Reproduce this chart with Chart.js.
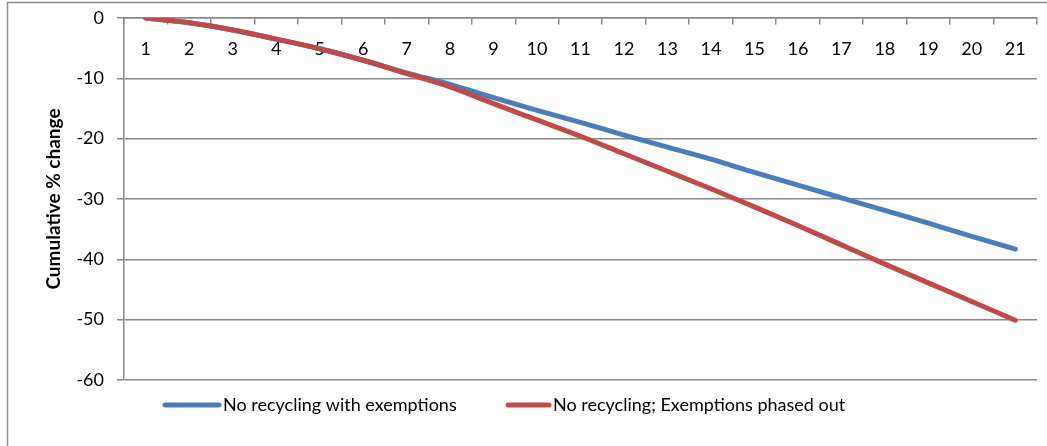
<!DOCTYPE html>
<html>
<head>
<meta charset="utf-8">
<script src="https://cdn.jsdelivr.net/npm/chart.js@4.4.1/dist/chart.umd.min.js"></script>
<style>
  html, body { margin: 0; padding: 0; background: #ffffff; }
  #wrap { width: 1047px; height: 446px; }
</style>
</head>
<body>
<div id="wrap"><canvas id="chart" width="1047" height="446"></canvas></div>
<script>
// Years since start
const years = ['1','2','3','4','5','6','7','8','9','10','11','12','13','14','15','16','17','18','19','20','21'];

// Cumulative % change per scenario
const withExemptions = [0, -0.8, -2.0, -3.5, -5.1, -7.0, -9.1, -11.0, -13.2, -15.3, -17.3, -19.4, -21.4, -23.4, -25.6, -27.7, -29.8, -31.9, -34.0, -36.2, -38.3];
const exemptionsPhasedOut = [0, -0.8, -2.0, -3.5, -5.1, -7.0, -9.2, -11.4, -14.2, -16.9, -19.6, -22.5, -25.4, -28.3, -31.3, -34.4, -37.6, -40.8, -43.9, -47.0, -50.1];

const seriesNames = ['No recycling with exemptions', 'No recycling; Exemptions phased out'];
const yAxisTitle = 'Cumulative % change';
const yMin = -60, yMax = 0, yStep = 10;

const FONT = 'Lato, "Open Sans", sans-serif';
const BLUE = '#4A7EBB';
const RED = '#BE4B48';
const GRID = '#8a8a8a';

// Outer frame of the chart area (left and top edges are visible)
const framePlugin = {
  id: 'frame',
  beforeDraw(chart) {
    const ctx = chart.ctx;
    ctx.save();
    ctx.fillStyle = '#ffffff';
    ctx.fillRect(0, 0, chart.width, chart.height);
    ctx.strokeStyle = '#8c8c8c';
    ctx.lineWidth = 1.5;
    ctx.strokeRect(7.5, 2.5, chart.width + 20, chart.height + 20);
    ctx.restore();
  }
};

// Legend with line samples under the plot
const lineLegend = {
  id: 'lineLegend',
  afterDraw(chart) {
    const ctx = chart.ctx;
    const items = [
      { ds: 0, x0: 165, x1: 219, tx: 223 },
      { ds: 1, x0: 508, x1: 549, tx: 553 }
    ];
    const y = 405;
    ctx.save();
    ctx.font = '18px ' + FONT;
    ctx.textBaseline = 'middle';
    ctx.textAlign = 'left';
    items.forEach(it => {
      const ds = chart.data.datasets[it.ds];
      ctx.strokeStyle = ds.borderColor;
      ctx.lineWidth = 5;
      ctx.lineCap = 'round';
      ctx.beginPath();
      ctx.moveTo(it.x0, y);
      ctx.lineTo(it.x1, y);
      ctx.stroke();
      ctx.fillStyle = '#000000';
      ctx.fillText(ds.label, it.tx, y);
    });
    ctx.restore();
  }
};

new Chart(document.getElementById('chart'), {
  type: 'line',
  data: {
    labels: years,
    datasets: [
      {
        label: seriesNames[0],
        data: withExemptions,
        borderColor: BLUE,
        backgroundColor: BLUE,
        borderWidth: 5,
        borderCapStyle: 'round',
        borderJoinStyle: 'round',
        pointRadius: 0,
        cubicInterpolationMode: 'monotone',
        order: 1
      },
      {
        label: seriesNames[1],
        data: exemptionsPhasedOut,
        borderColor: RED,
        backgroundColor: RED,
        borderWidth: 5,
        borderCapStyle: 'round',
        borderJoinStyle: 'round',
        pointRadius: 0,
        cubicInterpolationMode: 'monotone',
        order: 0
      }
    ]
  },
  options: {
    responsive: false,
    animation: false,
    devicePixelRatio: 1,
    layout: { padding: { left: 0, top: 18, right: 10, bottom: 66 } },
    plugins: {
      legend: { display: false },
      tooltip: { enabled: false }
    },
    scales: {
      x: {
        type: 'category',
        position: { y: 0 },
        offset: true,
        grid: {
          offset: true,
          drawOnChartArea: false,
          drawTicks: true,
          tickLength: 6,
          color: GRID,
          lineWidth: 1.5
        },
        border: { display: true, color: GRID, width: 1.5 },
        ticks: {
          autoSkip: false,
          maxRotation: 0,
          padding: 14,
          color: '#000000',
          font: { family: FONT, size: 18 }
        }
      },
      y: {
        min: yMin,
        max: yMax,
        afterFit(scale) {
          scale.width = 124;
          scale.paddingTop = 0;
          scale.paddingBottom = 0;
        },
        ticks: {
          stepSize: yStep,
          padding: 13,
          color: '#000000',
          font: { family: FONT, size: 18 }
        },
        grid: {
          color: GRID,
          lineWidth: 1.5,
          tickLength: 7
        },
        border: { display: true, color: GRID, width: 1.5 },
        title: {
          display: true,
          text: yAxisTitle,
          color: '#000000',
          font: { family: FONT, size: 19, weight: 'bold' },
          padding: { top: 42, bottom: 0 }
        }
      }
    }
  },
  plugins: [framePlugin, lineLegend]
});
</script>
</body>
</html>
